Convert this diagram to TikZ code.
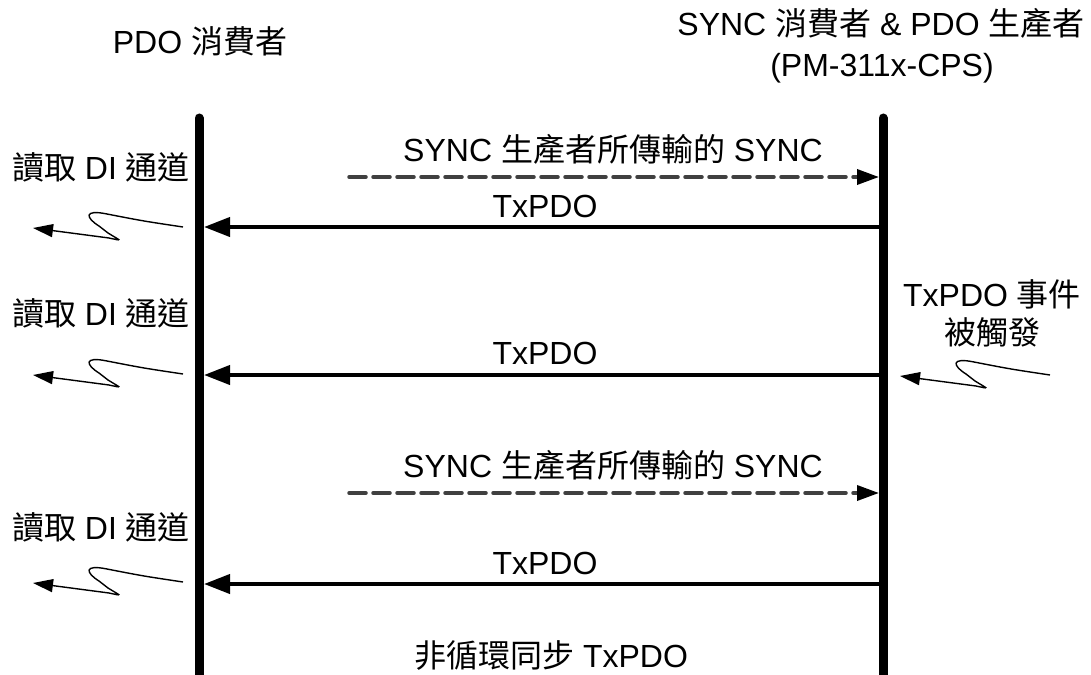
\documentclass[tikz,border=0pt]{standalone}
\usepackage{fontspec}
\setmainfont{Liberation Sans}
\newfontfamily\cjk{Noto Sans CJK TC}
\newcommand{\zh}[1]{{\cjk #1}}
\usetikzlibrary{arrows.meta}
\begin{document}
\begin{tikzpicture}[x=1pt,y=-1pt,
  txt/.style={anchor=base,inner sep=0pt,font=\fontsize{32}{38}\selectfont},
  life/.style={line width=9pt,line cap=round},
  msg/.style={line width=4pt,-{Triangle[length=26pt,width=19pt]}},
  syncmsg/.style={line width=3.5pt,draw=black!75,dash pattern=on 17pt off 7pt,line cap=round,
    -{Triangle[length=22pt,width=15pt,color=black,fill=black]}},
  squig/.style={line width=1.4pt,-{Triangle[length=20pt,width=13pt]}}]
\useasboundingbox (0,0) rectangle (1091,674);
% headers
\node[txt] (hl) at (200,54) {PDO \zh{消費者}};
\node[txt] (hr) at (881,36) {SYNC \zh{消費者} \& PDO \zh{生產者}};
\node[txt] (hr2) at (882,77) {(PM-311x-CPS)};
% lifelines
\coordinate (lt) at (199,118);
\coordinate (lb) at (199,680);
\coordinate (rt) at (883,118);
\coordinate (rb) at (883,680);
\draw[life] (lt) -- (lb);
\draw[life] (rt) -- (rb);
% messages
\coordinate (s1a) at (349,177); \coordinate (s1b) at (879,177);
\draw[syncmsg] (s1a) -- (s1b);
\node[txt] (s1l) at (613,161) {SYNC \zh{生產者所傳輸的} SYNC};
\coordinate (t1a) at (879,227); \coordinate (t1b) at (204,227);
\draw[msg] (t1a) -- (t1b);
\node[txt] (t1l) at (545,217) {TxPDO};
\coordinate (t2a) at (879,375); \coordinate (t2b) at (204,375);
\draw[msg] (t2a) -- (t2b);
\node[txt] (t2l) at (545,364) {TxPDO};
\coordinate (s2a) at (349,493); \coordinate (s2b) at (879,493);
\draw[syncmsg] (s2a) -- (s2b);
\node[txt] (s2l) at (613,477) {SYNC \zh{生產者所傳輸的} SYNC};
\coordinate (t3a) at (879,584); \coordinate (t3b) at (204,584);
\draw[msg] (t3a) -- (t3b);
\node[txt] (t3l) at (545,574) {TxPDO};
\node[txt] (foot) at (551,667) {\zh{非循環同步} TxPDO};
% left side labels
\node[txt] (r1) at (101,179) {\zh{讀取} DI \zh{通道}};
\node[txt] (r2) at (101,325) {\zh{讀取} DI \zh{通道}};
\node[txt] (r3) at (101,539) {\zh{讀取} DI \zh{通道}};
\node[txt] (ev1) at (992,306) {TxPDO \zh{事件}};
\node[txt] (ev2) at (992,344) {\zh{被觸發}};
% squiggles
\foreach \n/\sx/\sy in {q1/183/227, q2/183/374, q3/183/582, q4/1050/375}{
  \coordinate (\n) at (\sx,\sy);
  \begin{scope}[shift={(\n)}]
  \draw[squig] (0,0) .. controls (-40,-6) .. (-76,-13) .. controls (-100,-18) and (-97,-9) .. (-84,-1)
     -- (-75,6) .. controls (-62,14) and (-60,14) .. (-74,11) -- (-150,1);
  \end{scope}
}
\end{tikzpicture}
\end{document}
